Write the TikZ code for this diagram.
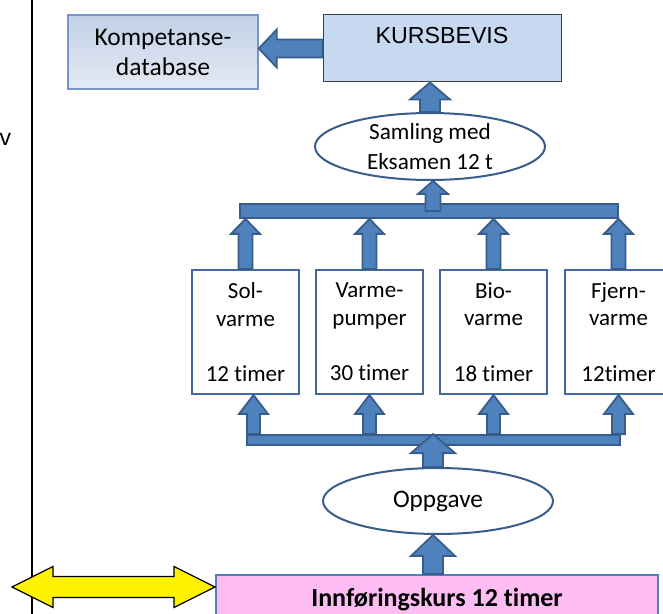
\documentclass[tikz,border=0pt]{standalone}
\usepackage{fontspec}
\setmainfont{Carlito}[Ligatures=NoCommon]
\newfontfamily\arialfont{Liberation Sans}
\usetikzlibrary{calc,positioning,shapes.geometric}

\definecolor{arrowfill}{RGB}{79,129,189}
\definecolor{arrowline}{RGB}{56,93,138}
\definecolor{boxline}{RGB}{65,105,160}
\definecolor{kursfill}{RGB}{198,217,241}
\definecolor{kompline}{RGB}{120,150,200}
\definecolor{introfill}{RGB}{253,188,242}

% block arrows: x from #1, tip at the y of #2
\newcommand{\blockup}[5]{%
  \filldraw[blockarrow] let \p1=(#1), \p2=(#2) in
    (\x1-#3,\y1) -- (\x1-#3,\y2-#5) -- (\x1-#4,\y2-#5) -- (\x1,\y2)
    -- (\x1+#4,\y2-#5) -- (\x1+#3,\y2-#5) -- (\x1+#3,\y1) -- cycle;}
\newcommand{\blockleft}[5]{%
  \filldraw[blockarrow] let \p1=(#1), \p2=(#2) in
    (\x1,\y1-#3) -- (\x2+#5,\y1-#3) -- (\x2+#5,\y1-#4) -- (\x2,\y1)
    -- (\x2+#5,\y1+#4) -- (\x2+#5,\y1+#3) -- (\x1,\y1+#3) -- cycle;}

\tikzset{
  blockarrow/.style={fill=arrowfill, draw=arrowline, line width=0.9pt},
  coursebox/.style={draw=boxline, line width=1pt, fill=white, minimum width=53.5pt,
    minimum height=62pt, inner sep=0pt, align=center},
  oval/.style={ellipse, draw=arrowline, line width=1pt, fill=white, inner sep=0pt,
    inner ysep=-3pt, align=center},
  bus/.style={rectangle, fill=arrowfill, draw=arrowline, line width=0.9pt, inner sep=0pt}
}

\begin{document}
\begin{tikzpicture}[x=0.5pt, y=-0.5pt, font=\fontsize{11.5}{13.9}\selectfont]
  \useasboundingbox (0,0) rectangle (663,614);
  \draw[line width=0.8pt] (32,0) -- (32,614);
  \node[font=\arialfont\fontsize{11.5}{13}\selectfont, inner sep=0pt] (cut) at (5.5,139.5) {v};

  \node[draw=kompline, line width=0.8pt, top color=kompline!45, bottom color=kompline!20,
    minimum width=95pt, minimum height=37pt, inner sep=0pt, align=center,
    font=\fontsize{12.75}{15}\selectfont] (komp) at (163,52) {Kompetanse-\\database};
  \node[draw=black!75, line width=0.5pt, fill=kursfill, minimum width=119pt,
    minimum height=33.5pt, inner sep=0pt,
    label={[anchor=north, yshift=-6pt, inner sep=0pt,
      font=\arialfont\fontsize{11.6}{14}\selectfont]north:KURSBEVIS}] (kurs) at (442,48.5) {};
  \node[oval, minimum width=115pt, minimum height=33.5pt, font=\fontsize{11.6}{15}\selectfont]
    (samling) at (430,146.5) {Samling med\\Eksamen 12 t};
  \node[bus, minimum width=189pt, minimum height=7pt] (topbus) at (429,211) {};

  \node[coursebox] (sol) at (245.5,332) {Sol-\\varme\\[13.9pt]12 timer};
  \node[coursebox, right=7.5pt of sol] (varme) {Varme-\\pumper\\[13.9pt]30 timer};
  \node[coursebox, right=7.5pt of varme] (bio) {Bio-\\varme\\[13.9pt]18 timer};
  \node[coursebox, right=8pt of bio] (fjern) {Fjern-\\varme\\[13.9pt]12timer};

  \node[bus, minimum width=186.5pt, minimum height=5pt] (lowbus) at (433.5,440) {};
  \node[oval, minimum width=115pt, minimum height=33pt, font=\fontsize{12.6}{15}\selectfont]
    (oppgave) at (438,501) {Oppgave};
  \node[draw=arrowfill, line width=1pt, fill=introfill, minimum width=221pt,
    minimum height=25pt, inner sep=0pt, font=\bfseries\fontsize{13}{15}\selectfont]
    (intro) at (437,600) {Innføringskurs 12 timer};

  % arrows
  \blockleft{kurs.west}{komp.east}{4.5pt}{9.5pt}{9pt}
  \blockup{samling.north}{kurs.south}{5pt}{10pt}{8.5pt}
  \blockup{$(topbus.center)+(4,0)$}{samling.south}{3.75pt}{7.5pt}{6.5pt}
  \foreach \b in {sol,varme,bio,fjern}
    \blockup{\b.north}{topbus.south}{3.5pt}{7.25pt}{7.5pt};
  \blockup{$(lowbus.north -| sol.south)+(8,0)$}{sol.south}{3.25pt}{7.25pt}{9.5pt}
  \foreach \b in {varme,bio,fjern}
    \blockup{lowbus.north -| \b.south}{\b.south}{3.25pt}{7.25pt}{9.5pt};
  \blockup{$(oppgave.north)+(-5,0)$}{lowbus.north}{5pt}{11pt}{9.5pt}
  \blockup{$(intro.north)+(-4,0)$}{oppgave.south}{5pt}{11pt}{10.5pt}

  \coordinate (farleft) at (12,587);
  \filldraw[fill=yellow, draw=black, line width=0.6pt]
    let \p1=(farleft), \p2=(farleft -| intro.west) in
    (\x1,\y1) -- (\x1+20.5pt,\y1+10.25pt) -- (\x1+20.5pt,\y1+5.25pt)
    -- (\x2-20.5pt,\y1+5.25pt) -- (\x2-20.5pt,\y1+10.25pt) -- (\x2,\y1)
    -- (\x2-20.5pt,\y1-10.25pt) -- (\x2-20.5pt,\y1-5.25pt)
    -- (\x1+20.5pt,\y1-5.25pt) -- (\x1+20.5pt,\y1-10.25pt) -- cycle;
\end{tikzpicture}
\end{document}
